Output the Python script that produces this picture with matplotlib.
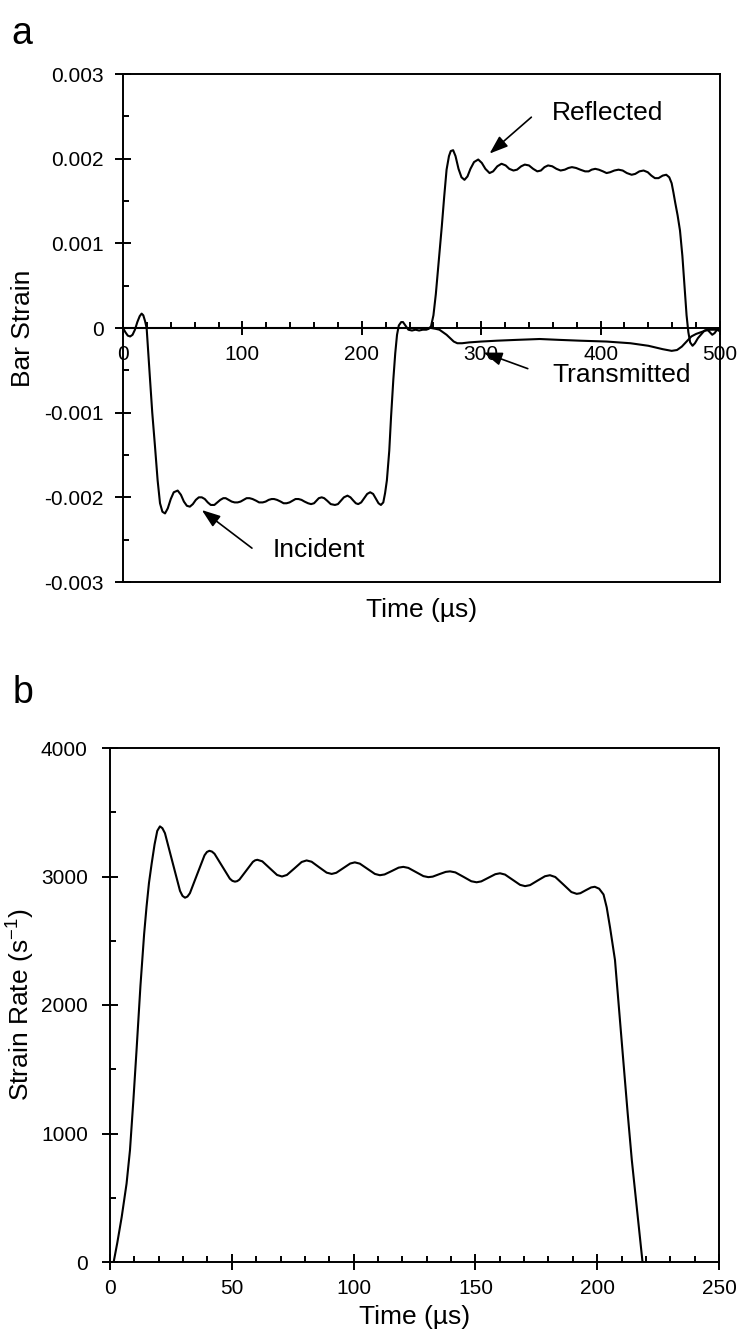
import numpy as np
import matplotlib
matplotlib.use("Agg")
import matplotlib.pyplot as plt
from matplotlib.ticker import MultipleLocator

plt.rcParams['font.family'] = ['Liberation Sans', 'DejaVu Sans']
plt.rcParams['font.size'] = 15

# ---------------- Panel a: bar strains ----------------
# Incident-bar gauge signal (incident + reflected pulse), strain in units of 1e-3
incident_time = [0, 2, 4, 6, 8, 10, 12, 14, 15.6, 17, 18.5, 19.8, 21, 22.6, 24.5, 26.8, 29, 31, 33,
                 35.2, 37.5, 40, 42.5, 45.8, 48.5, 51, 53.5, 56, 58.5, 61, 63.5, 66, 68.5, 71, 73.5,
                 76.5, 79, 81.5, 84, 86, 88.5, 91, 93.5, 96, 98.5, 101, 103.5, 106, 108.5, 111.5, 114,
                 117, 119.5, 122, 124.5, 126.5, 129, 132, 134.5, 137, 139.5, 142, 144.5, 147, 149.5,
                 152, 155, 157.5, 160, 162, 164, 166.4, 168.5, 171, 174, 177.5, 180, 182.5, 185, 188,
                 190.5, 193, 195, 197, 199.5, 202, 204.5, 207, 209.5, 212, 214, 216, 218, 219.5, 221,
                 223, 224.5, 226.4, 228, 229.5, 231, 233, 234.5, 236.5, 239, 242, 245, 248, 251, 254,
                 256, 258, 260, 262, 264.5, 267, 269, 271, 273, 274.5, 276.5, 278.5, 281, 283.5, 286,
                 288.5, 291, 294, 297.5, 300.5, 303.5, 307, 310, 313.5, 317, 320.5, 323.5, 327, 330,
                 333.5, 336.5, 340, 343.5, 347, 350, 353, 356, 359.5, 363, 366.5, 370, 373, 376, 379.5,
                 383, 387, 390, 392.5, 395.5, 398.5, 402, 405, 408, 411.5, 415, 418.5, 422, 426, 429,
                 432.5, 436, 439.5, 442.5, 445.5, 448.5, 452, 455, 457.5, 459.5, 461, 462.5, 464.5,
                 466.5, 468.5, 470.5, 472, 473.5, 475, 477, 479, 481.5, 484.5, 487, 489.5, 491.5,
                 493.5, 495.5, 497.5, 500]
incident_mstrain = [0, -0.05, -0.09, -0.10, -0.08, -0.02, 0.07, 0.14, 0.17, 0.15, 0.08, 0.0, -0.25,
                    -0.6, -1.0, -1.4, -1.8, -2.07, -2.17, -2.19, -2.13, -2.02, -1.94, -1.92, -1.97,
                    -2.05, -2.10, -2.11, -2.08, -2.03, -2.00, -2.00, -2.02, -2.06, -2.09, -2.09, -2.06,
                    -2.03, -2.01, -2.01, -2.03, -2.05, -2.06, -2.06, -2.05, -2.03, -2.01, -2.01, -2.02,
                    -2.04, -2.06, -2.06, -2.05, -2.03, -2.02, -2.02, -2.03, -2.05, -2.07, -2.07, -2.06,
                    -2.04, -2.02, -2.02, -2.03, -2.05, -2.07, -2.08, -2.07, -2.04, -2.01, -2.00, -2.01,
                    -2.04, -2.08, -2.09, -2.08, -2.04, -2.00, -1.98, -2.00, -2.04, -2.07, -2.08, -2.06,
                    -2.01, -1.96, -1.94, -1.96, -2.02, -2.07, -2.09, -2.06, -1.95, -1.80, -1.45, -1.05,
                    -0.61, -0.3, -0.08, 0.03, 0.07, 0.07, 0.03, -0.02, -0.03, -0.02, -0.03, -0.02,
                    -0.02, -0.01, 0.02, 0.15, 0.4, 0.8, 1.2, 1.55, 1.87, 2.03, 2.09, 2.10, 2.03, 1.88,
                    1.78, 1.75, 1.79, 1.88, 1.96, 1.99, 1.95, 1.88, 1.83, 1.85, 1.91, 1.94, 1.92, 1.88,
                    1.86, 1.87, 1.91, 1.93, 1.92, 1.88, 1.85, 1.86, 1.90, 1.92, 1.91, 1.88, 1.86, 1.87,
                    1.89, 1.90, 1.89, 1.87, 1.85, 1.85, 1.87, 1.88, 1.87, 1.85, 1.83, 1.84, 1.86, 1.87,
                    1.86, 1.83, 1.81, 1.82, 1.85, 1.86, 1.84, 1.80, 1.77, 1.77, 1.80, 1.81, 1.78, 1.71,
                    1.60, 1.48, 1.33, 1.15, 0.85, 0.45, 0.15, -0.05, -0.17, -0.21, -0.18, -0.12, -0.07,
                    -0.03, -0.02, -0.05, -0.08, -0.06, -0.02, -0.04]

# Transmitted-bar gauge signal, strain in units of 1e-3
transmitted_time = [0, 250, 258, 262, 265, 268, 271, 274, 277, 280, 284, 290, 300, 313, 330, 349, 365,
                    383, 405, 425, 440, 452, 459.5, 464, 468, 472, 476, 480, 484, 488, 492, 496, 500]
transmitted_mstrain = [0, 0, 0.0, -0.01, -0.02, -0.05, -0.08, -0.12, -0.16, -0.18, -0.18, -0.17,
                       -0.16, -0.15, -0.14, -0.13, -0.14, -0.15, -0.16, -0.18, -0.21, -0.25, -0.27,
                       -0.26, -0.22, -0.16, -0.10, -0.07, -0.05, -0.03, -0.02, -0.02, -0.02]

strain_ticks = [-0.003, -0.002, -0.001, 0, 0.001, 0.002, 0.003]
strain_ticklabels = ['-0.003', '-0.002', '-0.001', '0', '0.001', '0.002', '0.003']
time_ticks_a = [0, 100, 200, 300, 400, 500]

# ---------------- Panel b: strain rate ----------------
rate_time = [1.5, 3, 4.8, 6.8, 8.2, 9.6, 10.9, 12.5, 14, 15, 16, 17.1, 18.3, 19.4, 20.5, 21.5,
             22.56, 25.65, 28.74, 29.77, 30.8, 31.8, 32.8, 35.8, 38.8, 39.8, 40.8, 41.85, 42.9,
             46.05, 49.2, 50.25, 51.3, 52.22, 53.14, 55.9, 58.66, 59.58, 60.5, 62.52, 65.55, 68.58,
             70.6, 72.62, 75.65, 78.68, 80.7,
             82.76, 85.85, 88.94, 91, 92.9, 95.75, 98.6, 100.5, 102.56, 105.65, 108.74, 110.8,
             112.72, 115.6, 118.48, 120.4, 122.46, 125.55, 128.64, 130.7, 132.48, 135.15, 137.82,
             139.6, 141.78, 145.05, 148.32, 150.5, 152.42, 155.3, 158.18, 160.1, 162.16, 165.25,
             168.34, 170.4, 172.44, 175.5, 178.56, 180.6, 182.8, 186.1, 189.4, 191.6, 193.08,
             195.3, 197.52, 199, 200.8, 202.6, 203.9, 205.3, 207.3, 209.0, 210.7, 212.5, 214.2,
             216.3, 218.3, 218.6]
strain_rate = [0, 150, 350, 610, 870, 1260, 1650, 2150, 2550, 2765, 2950, 3100, 3250, 3355, 3390,
               3376, 3337, 3112, 2888, 2849, 2835, 2844, 2870, 3018, 3165, 3191, 3200, 3194, 3177,
               3080, 2983, 2966, 2960, 2964, 2976, 3045, 3114, 3126, 3130, 3118, 3065, 3012,
               3000, 3012, 3062, 3113, 3125,
               3115, 3072, 3030, 3020, 3029, 3065, 3101, 3110, 3100, 3060, 3020, 3010,
               3016, 3042, 3069, 3075, 3067, 3035, 3003, 2995, 2999, 3018, 3036,
               3040, 3032, 2998, 2963, 2955, 2962, 2990, 3018, 3025, 3015, 2975,
               2935, 2925, 2933, 2968, 3002, 3010, 2996, 2938, 2879, 2865, 2870,
               2893, 2915, 2920, 2905, 2860, 2760, 2600, 2350, 1960, 1570, 1160, 795,
               415, 55, 0]

rate_ticks = [0, 1000, 2000, 3000, 4000]
time_ticks_b = [0, 50, 100, 150, 200, 250]

W, H = 740, 1335
fig = plt.figure(figsize=(W / 100, H / 100), dpi=100)

LW_SPINE = 1.4
LW_LINE = 1.5
LABEL_FS = 19

# ---- panel a ----
axa = fig.add_axes([123 / W, 1 - 582 / H, 597 / W, 508 / H])
axa.plot(incident_time, np.array(incident_mstrain) * 1e-3, color='k', lw=LW_LINE, zorder=3)
axa.plot(transmitted_time, np.array(transmitted_mstrain) * 1e-3, color='k', lw=LW_LINE, zorder=3)
axa.set_xlim(0, 500)
axa.set_ylim(-0.003, 0.003)
for s in axa.spines.values():
    s.set_linewidth(LW_SPINE)
axa.tick_params(axis='x', which='both', bottom=False, labelbottom=False)
axa.set_yticks(strain_ticks)
axa.set_yticklabels(strain_ticklabels)
axa.yaxis.set_minor_locator(MultipleLocator(0.0005))
axa.tick_params(axis='y', which='major', direction='inout', length=11, width=LW_SPINE, pad=8.5)
axa.tick_params(axis='y', which='minor', direction='in', length=4, width=LW_SPINE)

sec = axa.secondary_xaxis(0.5)
sec.set_alignment('bottom')
sec.spines['bottom'].set_linewidth(LW_SPINE)
sec.set_xticks(time_ticks_a)
sec.xaxis.set_minor_locator(MultipleLocator(20))
sec.tick_params(axis='x', which='major', direction='inout', length=10, width=LW_SPINE, pad=7)
sec.tick_params(axis='x', which='minor', direction='in', length=4, width=LW_SPINE)

axa.set_xlabel('Time (µs)', fontsize=LABEL_FS)
axa.xaxis.set_label_coords(0.5, -0.032)
axa.set_ylabel('Bar Strain', fontsize=LABEL_FS)
axa.yaxis.set_label_coords(-0.147, 0.5)

arrow = dict(arrowstyle='-|>,head_length=0.75,head_width=0.27', color='k', lw=1.2,
             mutation_scale=15, shrinkA=0, shrinkB=0)
axa.annotate('', xy=(307, 0.00206), xytext=(342, 0.00249), arrowprops=arrow)
axa.text(406, 0.00254, 'Reflected', ha='center', va='center', fontsize=LABEL_FS)
axa.annotate('', xy=(66, -0.00215), xytext=(108, -0.0026), arrowprops=arrow)
axa.text(164, -0.00262, 'Incident', ha='center', va='center', fontsize=LABEL_FS)
axa.annotate('', xy=(302, -0.00029), xytext=(339, -0.00048), arrowprops=arrow)
axa.text(418, -0.00055, 'Transmitted', ha='center', va='center', fontsize=LABEL_FS)

fig.text(11 / W, 1 - 44 / H, 'a', fontsize=27, ha='left', va='baseline')

# ---- panel b ----
axb = fig.add_axes([110 / W, 1 - 1262 / H, 609 / W, 514 / H])
axb.plot(rate_time, strain_rate, color='k', lw=LW_LINE)
axb.set_xlim(0, 250)
axb.set_ylim(0, 4000)
for s in axb.spines.values():
    s.set_linewidth(LW_SPINE)
axb.set_xticks(time_ticks_b)
axb.set_yticks(rate_ticks)
axb.xaxis.set_minor_locator(MultipleLocator(10))
axb.yaxis.set_minor_locator(MultipleLocator(500))
axb.tick_params(which='major', direction='inout', length=12, width=LW_SPINE)
axb.tick_params(axis='x', which='major', pad=6)
axb.tick_params(axis='y', which='major', pad=10)
axb.tick_params(which='minor', direction='in', length=4, width=LW_SPINE)
axb.set_xlabel('Time (µs)', fontsize=LABEL_FS)
axb.xaxis.set_label_coords(0.5, -0.083)
axb.set_ylabel('Strain Rate (s$^{\\mathregular{-1}}$)', fontsize=LABEL_FS)
axb.yaxis.set_label_coords(-0.121, 0.5)

fig.text(13 / W, 1 - 703 / H, 'b', fontsize=27, ha='left', va='baseline')

fig.savefig('out.png', dpi=100)
